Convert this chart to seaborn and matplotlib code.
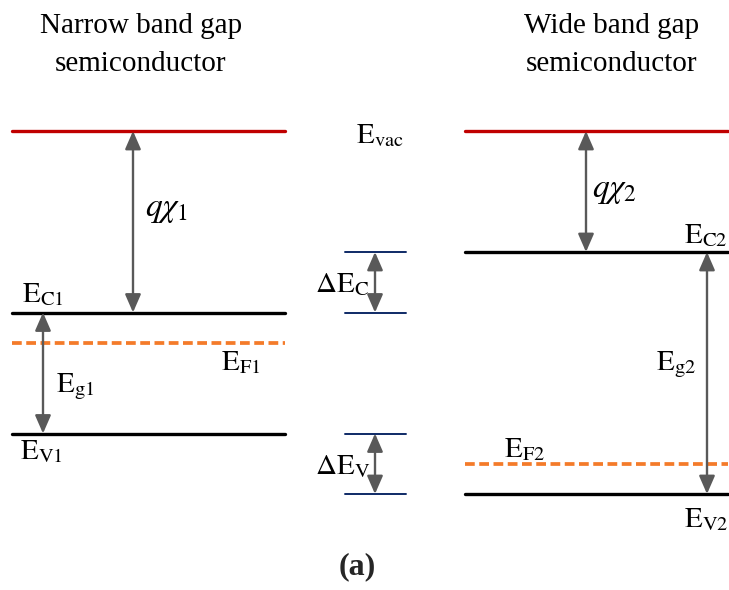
import matplotlib
matplotlib.use("Agg")
import matplotlib.pyplot as plt
import seaborn as sns

# ---- data: band energies (eV, vacuum level = 0) ----
narrow_levels = {"Evac": 0.0, "EC1": -3.0, "EF1": -3.5, "EV1": -5.0}
wide_levels = {"Evac": 0.0, "EC2": -2.0, "EF2": -5.5, "EV2": -6.0}
titles = ["Narrow band gap\nsemiconductor", "Wide band gap\nsemiconductor"]

sns.set_theme(style="white")
plt.rcParams["font.family"] = ["Liberation Serif", "DejaVu Serif"]
plt.rcParams["mathtext.fontset"] = "stix"

PX = 60.5  # pixels per eV
top_E = 131 / PX
bot_E = -(590 - 131) / PX

fig = plt.figure(figsize=(7.29, 5.90), dpi=100)
ax = fig.add_axes([0, 0, 1, 1])
ax.set_xlim(0, 729)
ax.set_ylim(bot_E, top_E)
ax.axis("off")

RED = "#C00000"
ORANGE = "#F47B2A"
NAVY = "#0E2A66"
GRAY = "#595959"
FS = 21

def level(x0, x1, E, color, lw=2.4, ls="-"):
    sns.lineplot(x=[x0, x1], y=[E, E], color=color, lw=lw, linestyle=ls, ax=ax,
                 estimator=None, legend=False)

def arrow(x, E0, E1):
    ax.annotate("", xy=(x, E1), xytext=(x, E0),
                arrowprops=dict(arrowstyle="<|-|>,head_length=0.55,head_width=0.24",
                                color=GRAY, lw=1.7, mutation_scale=20,
                                shrinkA=0, shrinkB=0))

dash = (0, (2.6, 1.2))
# narrow gap semiconductor
L0, L1 = 12, 285
level(L0, L1, narrow_levels["Evac"], RED)
level(L0, L1, narrow_levels["EC1"], "black")
level(L0, L1, narrow_levels["EF1"], ORANGE, lw=2.7, ls=dash)
level(L0, L1, narrow_levels["EV1"], "black")
# wide gap semiconductor
R0, R1 = 465, 728
level(R0, R1, wide_levels["Evac"], RED)
level(R0, R1, wide_levels["EC2"], "black")
level(R0, R1, wide_levels["EF2"], ORANGE, lw=2.7, ls=dash)
level(R0, R1, wide_levels["EV2"], "black")
# band offsets
M0, M1 = 345, 406
for E in [wide_levels["EC2"], narrow_levels["EC1"], narrow_levels["EV1"], wide_levels["EV2"]]:
    level(M0, M1, E, NAVY, lw=1.4)

arrow(133, narrow_levels["Evac"], narrow_levels["EC1"])
arrow(43, narrow_levels["EC1"], narrow_levels["EV1"])
arrow(586, wide_levels["Evac"], wide_levels["EC2"])
arrow(707, wide_levels["EC2"], wide_levels["EV2"])
arrow(375, wide_levels["EC2"], narrow_levels["EC1"])
arrow(375, narrow_levels["EV1"], wide_levels["EV2"])

def px(dy):
    return dy / PX

def lab(x, E, s, fs=FS, **kw):
    kw.setdefault("ha", "left")
    kw.setdefault("va", "baseline")
    ax.text(x, E, s, fontsize=fs, color="black", **kw)

# titles
for cx, t in zip([141, 612], titles):
    l1, l2 = t.split("\n")
    lab(cx, px(131 - 33), l1, ha="center")
    lab(cx, px(131 - 71), l2, ha="center")

lab(356, narrow_levels["Evac"] - px(12), r"$\mathrm{E}_{\mathrm{vac}}$")
lab(145, -1.3, r"$q\chi_{1}$", fs=24, va="center")
lab(22, narrow_levels["EC1"] + px(10), r"$\mathrm{E}_{\mathrm{C1}}$")
lab(221, narrow_levels["EF1"] - px(27), r"$\mathrm{E}_{\mathrm{F1}}$")
lab(56, narrow_levels["EV1"] + px(41), r"$\mathrm{E}_{\mathrm{g1}}$")
lab(20, narrow_levels["EV1"] - px(26), r"$\mathrm{E}_{\mathrm{V1}}$")
lab(315, narrow_levels["EC1"] + px(20), r"$\Delta\mathrm{E}_{\mathrm{C}}$")
lab(315, narrow_levels["EV1"] - px(41), r"$\Delta\mathrm{E}_{\mathrm{V}}$")
lab(592, -0.98, r"$q\chi_{2}$", fs=24, va="center")
lab(684, wide_levels["EC2"] + px(9), r"$\mathrm{E}_{\mathrm{C2}}$")
lab(656, -3.95, r"$\mathrm{E}_{\mathrm{g2}}$")
lab(504, wide_levels["EF2"] + px(7), r"$\mathrm{E}_{\mathrm{F2}}$")
lab(684, wide_levels["EV2"] - px(33), r"$\mathrm{E}_{\mathrm{V2}}$")
ax.text(357, -(567 - 131) / PX, "(a)", fontsize=23, fontweight="bold",
        ha="center", va="center")

fig.savefig("out.png", dpi=100)
